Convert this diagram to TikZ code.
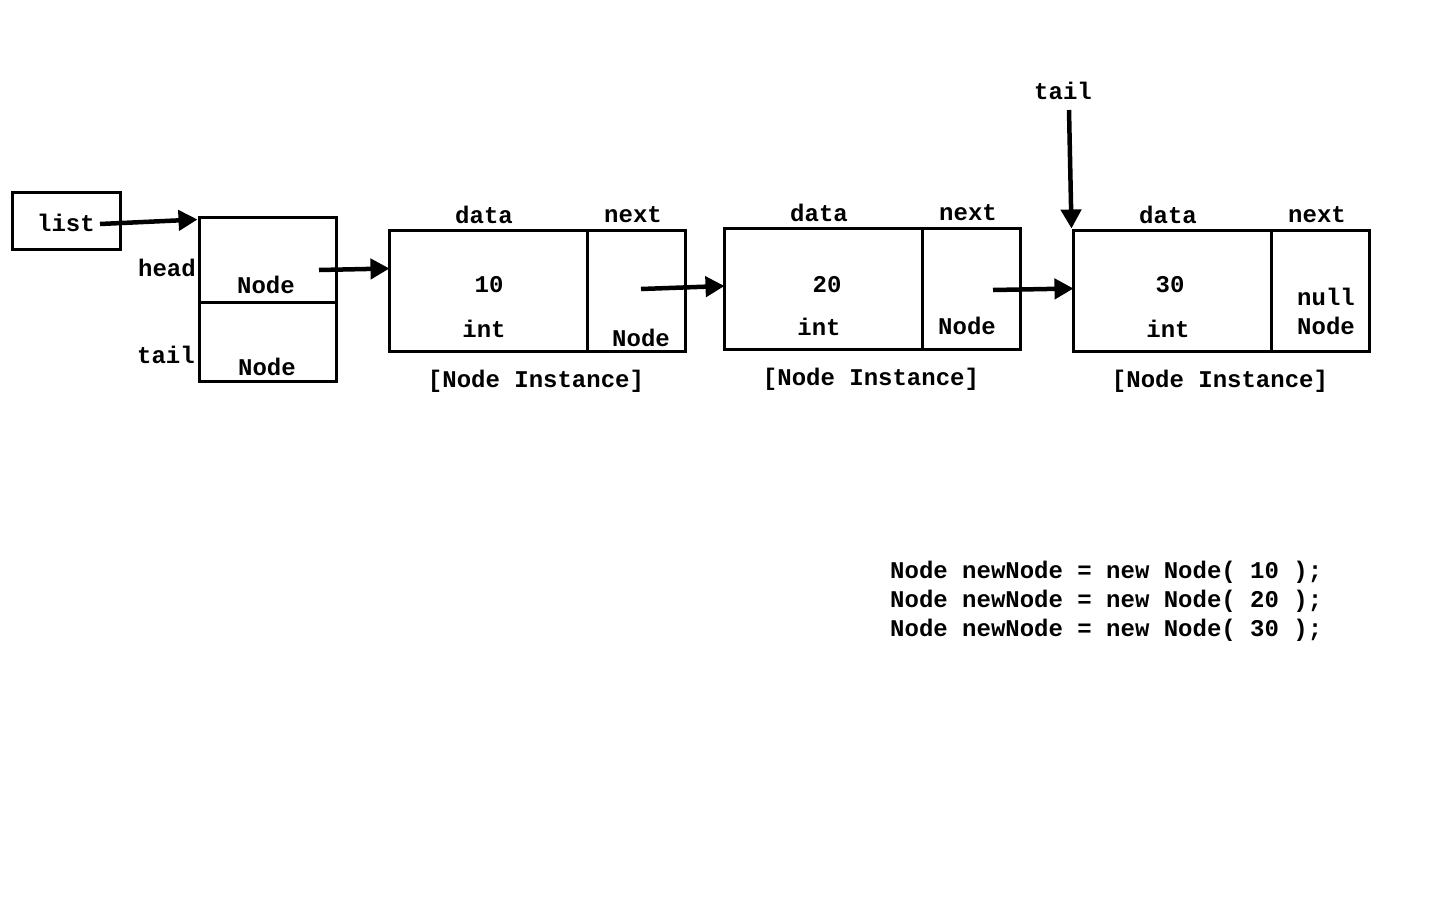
\documentclass[tikz,border=0pt]{standalone}
\usepackage{fontspec}
\setmainfont{Liberation Mono}
\usetikzlibrary{arrows.meta,calc}
\tikzset{
  box/.style={draw, line width=3pt, rectangle, inner sep=0pt},
  lbl/.style={inner sep=0pt, font=\fontsize{24}{28}\selectfont\bfseries},
  ptr/.style={line width=4.5pt, -{Triangle[length=19pt,width=20pt]}},
}
\begin{document}
\begin{tikzpicture}[x=1pt,y=-1pt]
\useasboundingbox (0,0) rectangle (1440,900);
% list box
\node[box, minimum width=108pt, minimum height=57pt] (listbox) at (66,220.5) {};
\node[lbl] (listtxt) at (66,223) {list};
% head/tail box
\node[box, minimum width=137pt, minimum height=85pt] (headbox) at (267.5,259.5) {};
\node[box, minimum width=137pt, minimum height=79pt] (tailbox) at (267.5,341.5) {};
\node[lbl] (headnode) at (266,285) {Node};
\node[lbl] (tailnode) at (267,367) {Node};
\node[lbl] (headlbl) at (167,268) {head};
\node[lbl] (taillbl) at (166,355) {tail};
% node 1
\node[box, minimum width=198pt, minimum height=121pt] (d1) at (488,290.5) {};
\node[box, minimum width=98pt, minimum height=121pt] (x1) at (636,290.5) {};
\node[lbl] (d1h) at (484,215) {data};
\node[lbl] (x1h) at (633,215) {next};
\node[lbl] (d1v) at (489,285) {10};
\node[lbl] (d1t) at (484,329) {int};
\node[lbl] (x1t) at (641,338) {Node};
\node[lbl] (c1) at (536,381) {[Node Instance]};
% node 2
\node[box, minimum width=198pt, minimum height=121pt] (d2) at (823,288.5) {};
\node[box, minimum width=98pt, minimum height=121pt] (x2) at (971,288.5) {};
\node[lbl] (d2h) at (819,213) {data};
\node[lbl] (x2h) at (968,213) {next};
\node[lbl] (d2v) at (827,285) {20};
\node[lbl] (d2t) at (819,327) {int};
\node[lbl] (x2t) at (967,326) {Node};
\node[lbl] (c2) at (871,379) {[Node Instance]};
% node 3
\node[box, minimum width=198pt, minimum height=121pt] (d3) at (1172,290.5) {};
\node[box, minimum width=98pt, minimum height=121pt] (x3) at (1320,290.5) {};
\node[lbl] (d3h) at (1168,215) {data};
\node[lbl] (x3h) at (1317,215) {next};
\node[lbl] (d3v) at (1170,285) {30};
\node[lbl] (d3t) at (1168,329) {int};
\node[lbl] (x3n) at (1326,297) {null};
\node[lbl] (x3t) at (1326,326) {Node};
\node[lbl] (c3) at (1220,381) {[Node Instance]};
% tail pointer label
\node[lbl] (tailtop) at (1063,91) {tail};
% code
\node[lbl, anchor=west] (code1) at (890,572) {Node newNode = new Node( 10 );};
\node[lbl, anchor=west] (code2) at (890,601) {Node newNode = new Node( 20 );};
\node[lbl, anchor=west] (code3) at (890,630) {Node newNode = new Node( 30 );};
% connectors
\coordinate (s0) at (100,224);
\coordinate (s1) at (319,270);
\coordinate (s2) at (641,289);
\coordinate (s3) at (993,290);
\coordinate (s4) at (1069,110);
\draw[ptr] (s0) -- ($(headbox.north west)+(0,4)$);
\draw[ptr] (s1) -- ($(d1.north west)+(2,40)$);
\draw[ptr] (s2) -- ($(d2.north west)+(2,59.5)$);
\draw[ptr] (s3) -- ($(d3.north west)+(2,60)$);
\draw[ptr] (s4) -- (d3.north west);
\end{tikzpicture}
\end{document}
